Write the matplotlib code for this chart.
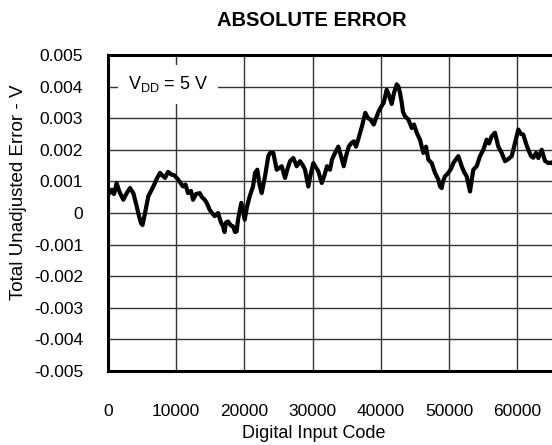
import numpy as np
import matplotlib
matplotlib.use("Agg")
import matplotlib.pyplot as plt

plt.rcParams['font.family'] = ['Liberation Sans', 'DejaVu Sans']

# values (code, volts)
codes = [300, 550, 880, 1275, 1466, 1759, 2243, 2741, 3225, 3709, 4207, 4545, 4838, 5058,
         5424, 5908, 6641, 7183, 7622, 7916, 8356, 8796, 9338, 9676, 10071, 10262, 10995,
         11362, 11728, 12168, 12461, 12901, 13443, 13780, 14176, 14513, 14909, 15246, 15642,
         16126, 16566, 16859, 17079, 17299, 17592, 18032, 18325, 18618, 18867, 19058, 19542,
         20040, 20377, 20773, 21257, 21550, 21887, 22210, 22532, 23016, 23500, 23749, 24233,
         24731, 25464, 25948, 26315, 26681, 27165, 27663, 28147, 28587, 28880, 29364, 29687,
         30097, 30830, 31328, 31739, 32105, 32545, 32838, 33278, 33762, 34158, 34554, 34891,
         35287, 35624, 36020, 36357, 36753, 37236, 37720, 38116, 38453, 38952, 39289, 39685,
         40124, 40418, 40857, 41151, 41590, 41928, 42323, 42558, 42807, 43056, 43247, 43540,
         44024, 44522, 44860, 45255, 45739, 46223, 46619, 46956, 47455, 47938, 48422, 48671,
         48920, 49111, 49404, 49888, 50284, 50621, 51017, 51354, 51852, 52190, 52585, 52849,
         53069, 53362, 53553, 54051, 54535, 55019, 55517, 55855, 56250, 56734, 57218, 57716,
         58200, 58640, 59183, 59666, 60150, 60546, 60883, 61279, 61616, 62012, 62350, 62745,
         63082, 63580, 64064, 64548, 65046, 65530]
error = [0.00065, 0.00074, 0.0006, 0.00095, 0.0008, 0.00063, 0.00042, 0.00063, 0.00079, 0.00063,
         0.00021, -0.0001, -0.00032, -0.00038, 0.0, 0.00053, 0.00084, 0.0011, 0.00127, 0.0012,
         0.00111, 0.0013, 0.00121, 0.0012, 0.00111, 0.00106, 0.00084, 0.0009, 0.00063, 0.0007,
         0.00042, 0.0006, 0.00063, 0.0005, 0.00042, 0.0003, 0.0001, 0.0, -0.0001, 0.0,
         -0.0003, -0.00042, -0.0006, -0.0003, -0.00027, -0.0004, -0.00042, -0.0006, -0.00058,
         -0.00021, 0.00032, -0.00021, 0.0002, 0.00053, 0.00084, 0.00127, 0.00137, 0.0009,
         0.00063, 0.00116, 0.0018, 0.0019, 0.0019, 0.00137, 0.00148, 0.00111, 0.0014, 0.00164,
         0.00174, 0.00148, 0.00164, 0.0015, 0.00137, 0.00084, 0.0012, 0.00158, 0.00132,
         0.00095, 0.0012, 0.00148, 0.00137, 0.00169, 0.0019, 0.0021, 0.0018, 0.00148, 0.0018,
         0.0021, 0.0022, 0.00227, 0.0021, 0.00238, 0.00275, 0.00317, 0.003, 0.00296, 0.0028,
         0.003, 0.00322, 0.00339, 0.00349, 0.0039, 0.00375, 0.00345, 0.0038, 0.00407, 0.00401,
         0.0038, 0.00349, 0.0032, 0.00306, 0.00296, 0.00269, 0.0028, 0.00254, 0.00232, 0.0019,
         0.0021, 0.00169, 0.00158, 0.00127, 0.00106, 0.00084, 0.00079, 0.001, 0.00116, 0.00127,
         0.0014, 0.00158, 0.0017, 0.0018, 0.00148, 0.0013, 0.00116, 0.0009, 0.00068, 0.0011,
         0.00137, 0.00148, 0.0018, 0.002, 0.00232, 0.0022, 0.00243, 0.00254, 0.0021, 0.0019,
         0.00164, 0.0017, 0.0018, 0.00222, 0.00264, 0.0025, 0.00248, 0.0022, 0.002, 0.0018,
         0.00175, 0.0019, 0.00174, 0.002, 0.00165, 0.00158, 0.0016, 0.0015]

xticks = [0, 10000, 20000, 30000, 40000, 50000, 60000]
yticks = [-0.005, -0.004, -0.003, -0.002, -0.001, 0, 0.001, 0.002, 0.003, 0.004, 0.005]
ytick_labels = ['-0.005', '-0.004', '-0.003', '-0.002', '-0.001', '0',
                '0.001', '0.002', '0.003', '0.004', '0.005']

fig = plt.figure(figsize=(5.52, 4.45), dpi=100)
ax = fig.add_axes([0.1957, 0.1663, 0.8098, 0.7101])

ax.plot(codes, error, color='black', lw=3.0, solid_joinstyle='round', zorder=3)

ax.set_xlim(0, 65535)
ax.set_ylim(-0.005, 0.005)
ax.set_xticks(xticks)
ax.set_xticklabels([str(t) for t in xticks])
ax.set_yticks(yticks)
ax.set_yticklabels(ytick_labels)
ax.tick_params(axis='both', length=0, labelsize=12.5)
ax.tick_params(axis='x', pad=24)
ax.tick_params(axis='y', pad=18)
ax.grid(True, color='#333333', lw=1.0)
for s in ax.spines.values():
    s.set_linewidth(2.2)
    s.set_color('black')

ax.text(8800, 0.00407, r'V$_{\mathregular{DD}}$ = 5 V', fontsize=13, ha='center', va='center',
        bbox=dict(facecolor='white', edgecolor='none', pad=7), zorder=4)

fig.text(0.564, 0.955, 'ABSOLUTE ERROR', fontsize=14.5, fontweight='bold', ha='center', va='center')
fig.text(0.568, 0.006, 'Digital Input Code', fontsize=13, ha='center', va='bottom')
fig.text(0.033, 0.569, 'Total Unadjusted Error - V', fontsize=13.5, rotation=90, ha='center', va='center')

fig.savefig('out.png', dpi=100)
